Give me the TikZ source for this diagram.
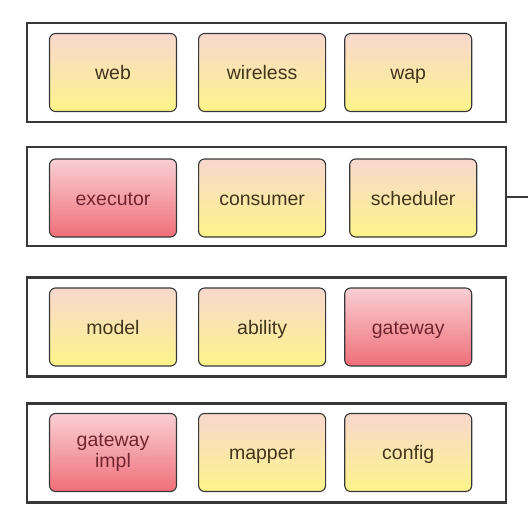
\documentclass[tikz,border=0pt]{standalone}
\usepackage{fontspec}
\setmainfont{Liberation Sans}
\usetikzlibrary{positioning}

\definecolor{edgegray}{HTML}{383838}
\definecolor{paletop}{HTML}{F8D8CE}
\definecolor{palebot}{HTML}{FDF48A}
\definecolor{redtop}{HTML}{F9CFD4}
\definecolor{redbot}{HTML}{EF6F78}
\definecolor{txtolive}{HTML}{40361A}
\definecolor{txtred}{HTML}{722530}

\tikzset{
  layer/.style={rectangle, draw=edgegray, line width=2.4pt, minimum width=479pt, minimum height=99pt},
  mod/.style={rectangle, rounded corners=6pt, draw=edgegray, line width=1.1pt,
    minimum width=127pt, minimum height=78pt, align=center, text height=16pt, text depth=2pt,
    font=\fontsize{19.5}{22}\selectfont, top color=paletop, bottom color=palebot, text=txtolive},
  hot/.style={mod, top color=redtop, bottom color=redbot, text=txtred}
}

\begin{document}
\begin{tikzpicture}[x=1pt, y=-1pt, node distance=21pt]
  \useasboundingbox (0,0) rectangle (528,528);
  \fill[white] (0,0) rectangle (528,528);
  % layers
  \node (l1) at (266.5,72.5) [layer] {};
  \node (l2) at (266.5,196.5) [layer] {};
  \node (l3) at (266.5,327) [layer] {};
  \node (l4) at (266.5,453) [layer] {};
  % first layer
  \node (web) at (113,72.5) [mod] {web};
  \node (wireless) [right=of web, mod] {wireless};
  \node (wap) [right=18pt of wireless, mod] {wap};
  % second layer
  \node (executor) at (113,198) [hot] {executor};
  \node (consumer) [right=of executor, mod] {consumer};
  \node (scheduler) [right=23pt of consumer, mod] {scheduler};
  % third layer
  \node (model) at (113,327) [mod] {model};
  \node (ability) [right=of model, mod] {ability};
  \node (gateway) [right=18pt of ability, hot] {gateway};
  % fourth layer
  \node (gwimpl) at (113,452.5) [hot, text height={}, text depth={}] {gateway\\[-1pt]impl};
  \node (mapper) [right=of gwimpl, mod] {mapper};
  \node (config) [right=18pt of mapper, mod] {config};
  \coordinate (out) at (528,196.5);
  \draw[edgegray, line width=2pt] (l2.east) -- (out);
\end{tikzpicture}
\end{document}
